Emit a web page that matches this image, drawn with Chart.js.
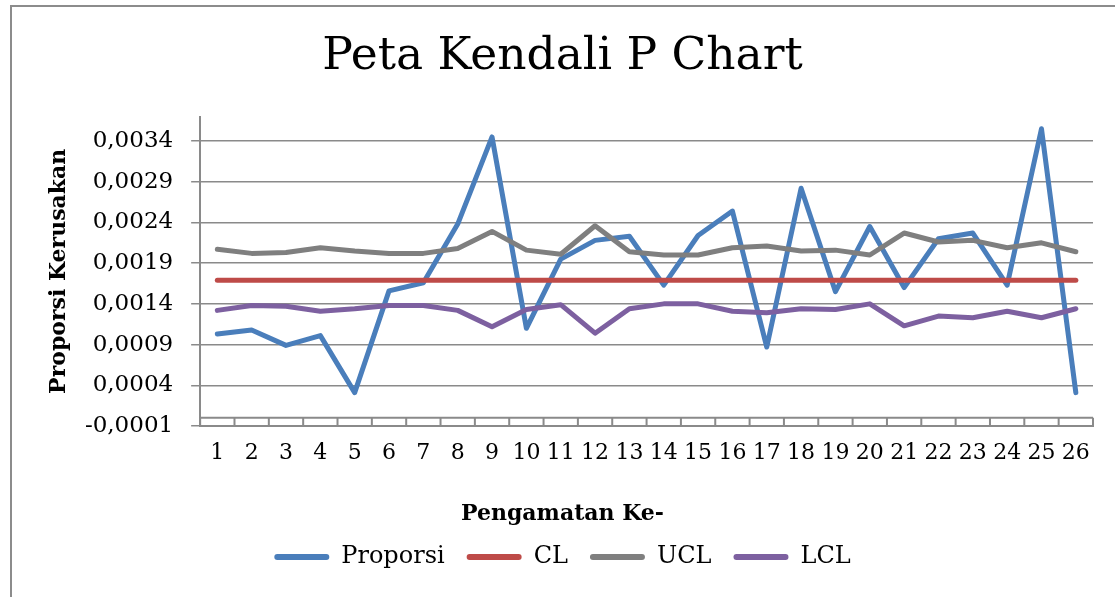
<!DOCTYPE html>
<html>
<head>
<meta charset="utf-8">
<title>Peta Kendali P Chart</title>
<script src="https://cdn.jsdelivr.net/npm/chart.js@4.4.0/dist/chart.umd.min.js"></script>
<style>
  html, body { margin: 0; padding: 0; background: #fff; overflow: hidden; }
  #frame { position: absolute; left: 10px; top: 5px; width: 1200px; height: 700px;
           border-left: 2px solid #8c8c8c; border-top: 2px solid #8c8c8c; pointer-events: none; }
  #wrap { position: absolute; left: 10px; top: 0; width: 1120px; height: 597px; }
</style>
</head>
<body>
<div id="frame"></div>
<div id="wrap">
  <canvas id="myChart"></canvas>
</div>
<script>
// Pengamatan ke-1 .. 26
const labels = ["1", "2", "3", "4", "5", "6", "7", "8", "9", "10", "11", "12", "13",
                "14", "15", "16", "17", "18", "19", "20", "21", "22", "23", "24", "25", "26"];

// nilai
const proporsi = [0.00103, 0.00108, 0.00089, 0.00101, 0.00031, 0.00156, 0.00166, 0.00238, 0.00345, 0.00110,
                  0.00195, 0.00218, 0.00223, 0.00163, 0.00224, 0.00254, 0.00087, 0.00282, 0.00155, 0.00235,
                  0.00160, 0.00220, 0.00227, 0.00163, 0.00355, 0.00031];
const cl = [0.00169, 0.00169, 0.00169, 0.00169, 0.00169, 0.00169, 0.00169, 0.00169, 0.00169, 0.00169,
            0.00169, 0.00169, 0.00169, 0.00169, 0.00169, 0.00169, 0.00169, 0.00169, 0.00169, 0.00169,
            0.00169, 0.00169, 0.00169, 0.00169, 0.00169, 0.00169];
const ucl = [0.00207, 0.00202, 0.00203, 0.00209, 0.00205, 0.00202, 0.00202, 0.00208, 0.00229, 0.00206,
             0.00201, 0.00236, 0.00204, 0.00200, 0.00200, 0.00209, 0.00211, 0.00205, 0.00206, 0.00200,
             0.00227, 0.00216, 0.00218, 0.00209, 0.00215, 0.00204];
const lcl = [0.00132, 0.00138, 0.00137, 0.00131, 0.00134, 0.00138, 0.00138, 0.00132, 0.00112, 0.00133,
             0.00139, 0.00104, 0.00134, 0.00140, 0.00140, 0.00131, 0.00129, 0.00134, 0.00133, 0.00140,
             0.00113, 0.00125, 0.00123, 0.00131, 0.00123, 0.00134];

// tick sumbu Y
const yTicks = [-0.0001, 0.0004, 0.0009, 0.0014, 0.0019, 0.0024, 0.0029, 0.0034];

const serif = "'DejaVu Serif', serif";
const gridColor = "#8a8a8a";

// garis pada nilai 0 dan kotak tick kecil di bawahnya (seperti Excel)
const zeroBox = {
    id: 'zeroBox',
    beforeDatasetsDraw(chart) {
        const {ctx, chartArea, scales: {x, y}} = chart;
        const y0 = y.getPixelForValue(0);
        const yb = y.getPixelForValue(yTicks[0]);
        const step = x.getPixelForValue(1) - x.getPixelForValue(0);
        const start = x.getPixelForValue(0) - step / 2;
        ctx.save();
        ctx.strokeStyle = gridColor;
        ctx.lineWidth = 2;
        ctx.beginPath();
        ctx.moveTo(chartArea.left, y0);
        ctx.lineTo(chartArea.right, y0);
        for (let i = 0; i <= labels.length; i++) {
            const px = start + i * step;
            ctx.moveTo(px, y0);
            ctx.lineTo(px, yb);
        }
        ctx.stroke();
        ctx.restore();
    }
};

const line = (label, data, color, order) => ({
    label: label,
    data: data,
    borderColor: color,
    backgroundColor: color,
    borderWidth: 5,
    borderCapStyle: 'round',
    borderJoinStyle: 'round',
    pointRadius: 0,
    tension: 0,
    fill: false,
    order: order
});

const ctx = document.getElementById("myChart").getContext("2d");

new Chart(ctx, {
    type: 'line',
    data: {
        labels: labels,
        datasets: [
            line("Proporsi", proporsi, "#4a7ebb", 4),
            line("CL", cl, "#be4b48", 3),
            line("UCL", ucl, "#7f7f7f", 2),
            line("LCL", lcl, "#7d60a0", 1)
        ]
    },
    plugins: [zeroBox],
    options: {
        responsive: true,
        maintainAspectRatio: false,
        animation: false,
        layout: {
            padding: {top: 10, left: 22, right: 37, bottom: 18}
        },
        scales: {
            x: {
                offset: true,
                grid: {display: false, drawTicks: false},
                border: {display: true, color: gridColor, width: 2},
                ticks: {
                    font: {family: serif, size: 22},
                    color: '#000',
                    padding: 14,
                    maxRotation: 0,
                    autoSkip: false
                }
            },
            y: {
                min: -0.0001,
                max: 0.0037,
                afterBuildTicks: scale => {
                    scale.ticks = yTicks.map(v => ({value: v}));
                },
                grid: {color: gridColor, lineWidth: 1.5, tickLength: 9},
                border: {display: true, color: gridColor, width: 2},
                ticks: {
                    font: {family: serif, size: 23},
                    color: '#000',
                    padding: 18,
                    callback: v => v.toFixed(4).replace('.', ',')
                },
                title: {
                    display: true,
                    text: 'Proporsi Kerusakan',
                    font: {family: serif, size: 22, weight: 'bold'},
                    color: '#000',
                    padding: {top: 14.5, bottom: -6}
                }
            }
        },
        plugins: {
            title: {
                display: true,
                text: 'Peta Kendali P Chart',
                font: {family: serif, size: 45.5, weight: 'normal'},
                color: '#000',
                padding: {top: 20, bottom: 32}
            },
            // judul sumbu X, dipusatkan seperti pada gambar asli
            subtitle: {
                display: true,
                position: 'bottom',
                weight: 500,
                text: 'Pengamatan Ke-',
                font: {family: serif, size: 22, weight: 'bold'},
                color: '#000',
                padding: {top: 20.4, bottom: -4.2}
            },
            legend: {
                position: 'bottom',
                labels: {
                    font: {family: serif, size: 24},
                    color: '#000',
                    boxWidth: 55,
                    boxHeight: 6,
                    padding: 22,
                    useBorderRadius: true,
                    borderRadius: 3,
                    sort: (a, b) => a.datasetIndex - b.datasetIndex,
                    generateLabels: chart => Chart.defaults.plugins.legend.labels.generateLabels(chart)
                        .map(item => Object.assign(item, {fillStyle: item.strokeStyle, lineWidth: 0}))
                }
            },
            tooltip: {enabled: false}
        }
    }
});
</script>
</body>
</html>
